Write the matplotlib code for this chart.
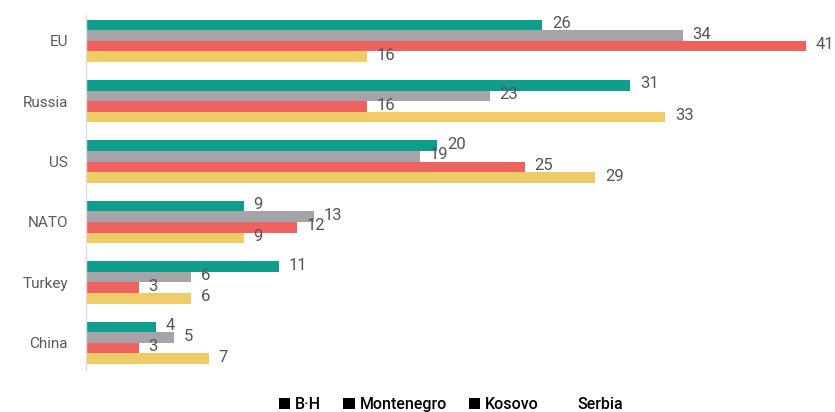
import matplotlib
matplotlib.use("Agg")
import matplotlib.pyplot as plt
import numpy as np
from matplotlib.patches import Patch

categories = ["EU", "Russia", "US", "NATO", "Turkey", "China"]
series_names = ["B·H", "Montenegro", "Kosovo", "Serbia"]
bh = [26, 31, 20, 9, 11, 4]
montenegro = [34, 23, 19, 13, 6, 5]
kosovo = [41, 16, 25, 12, 3, 3]
serbia = [16, 33, 29, 9, 6, 7]
colors = ["#0e9e8b", "#a4a4a9", "#ef6260", "#f0cc67"]

plt.rcParams['font.family'] = ['Roboto', 'DejaVu Sans']

fig = plt.figure(figsize=(8.35, 4.12), dpi=100)
ax = fig.add_axes([0.103, 0.102, 0.862, 0.862])

y = np.arange(len(categories))
h = 0.175
all_series = [bh, montenegro, kosovo, serbia]
for i, (vals, col) in enumerate(zip(all_series, colors)):
    pos = y - 1.5 * h + i * h
    ax.barh(pos, vals, height=h, color=col, edgecolor="none")
    for p, v in zip(pos, vals):
        ax.annotate(str(v), xy=(v, p), xytext=(7, 1), textcoords="offset points",
                    ha="left", va="center", fontsize=12, color="#555555",
                    annotation_clip=False)

ax.set_xlim(0, 41)
ax.set_ylim(len(categories) - 0.55, -0.43)
ax.set_yticks(y)
ax.set_yticklabels(categories, fontsize=11, color="#5a5a5a")
ax.tick_params(axis="y", length=0, pad=13)
ax.set_xticks([])
for s in ["top", "right", "bottom"]:
    ax.spines[s].set_visible(False)
ax.spines["left"].set_color("#dddddd")
ax.spines["left"].set_linewidth(1)

handles = [Patch(facecolor="black"), Patch(facecolor="black"),
           Patch(facecolor="black"), Patch(facecolor="white")]
fig.legend(handles, series_names, loc="lower center", bbox_to_anchor=(0.54, -0.035),
           ncol=4, frameon=False, handlelength=0.7, handleheight=0.7,
           handletextpad=0.3, columnspacing=1.4,
           prop={"weight": "medium", "size": 11.5})

fig.savefig("out.png", dpi=100)
